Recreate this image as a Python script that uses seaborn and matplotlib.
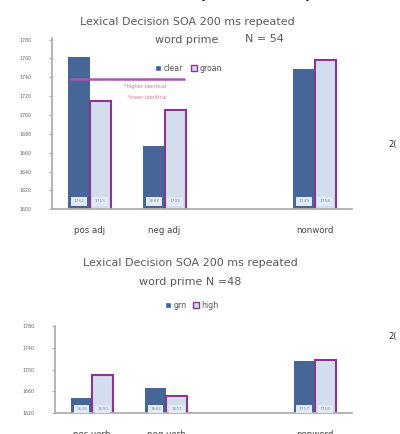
import pandas as pd
import matplotlib.pyplot as plt
import seaborn as sns
import numpy as np

# data
top_cats = ['pos adj', 'neg adj', ' ', 'nonword']
top_clear = [1762, 1667, np.nan, 1749]
top_groan = [1715, 1705, np.nan, 1758]
top_ticks = [1600, 1620, 1640, 1660, 1680, 1700, 1720, 1740, 1760, 1780]
top_mark = 1738

bot_cats = ['pos verb', 'neg verb', ' ', 'nonword']
bot_grn = [1648, 1666, np.nan, 1717]
bot_high = [1690, 1651, np.nan, 1718]
bot_ticks = [1620, 1660, 1700, 1740, 1780]

dark = '#3764a5'
light = '#d0dcf1'
edge = '#8a3590'
grey = '#666666'

sns.set_style('white')
plt.rcParams['font.family'] = ['DejaVu Sans']

fig = plt.figure(figsize=(4, 4.34), dpi=100)


def draw(ax, cats, a, b, names, ticks, ylim):
    df = pd.DataFrame({'cat': cats * 2, 'val': a + b,
                       'grp': [names[0]] * len(cats) + [names[1]] * len(cats)})
    sns.barplot(data=df, x='cat', y='val', hue='grp', order=cats,
                palette=[dark, light], width=0.57, ax=ax, legend=False)
    for k, cont in enumerate(ax.containers):
        for p in cont:
            if k == 1:
                p.set_edgecolor(edge)
                p.set_linewidth(1.5)
            else:
                p.set_linewidth(0)
            h = p.get_height()
            if np.isnan(h) or h == 0:
                continue
            # value boxes at the base of each bar
            ax.text(p.get_x() + p.get_width() / 2, ylim[0] + (ylim[1] - ylim[0]) * 0.045,
                    f'{h:.0f}', ha='center', va='center', fontsize=3.2, color='#8a9ab0',
                    bbox=dict(boxstyle='square,pad=0.5', fc='#e2eaf5', ec='none'))
    n = len(cats)
    ax.set_ylim(*ylim)
    ax.set_yticks(ticks)
    ax.set_yticklabels([str(t) for t in ticks], fontsize=3.4, color=grey)
    ax.set_xlabel('')
    ax.set_ylabel('')
    ax.set_xlim(-0.5, n - 0.5)
    ax.set_xticks(range(n))
    ax.set_xticklabels(cats, fontsize=6.2, color='#444444')
    ax.set_xticks(np.arange(0.5, n - 1, 1), minor=True)
    ax.tick_params(axis='x', which='major', length=0, pad=12)
    ax.tick_params(axis='x', which='minor', length=3, color='#aaaaaa')
    ax.tick_params(axis='y', length=2, color='#aaaaaa', pad=13, left=True)
    for s in ['top', 'right']:
        ax.spines[s].set_visible(False)
    for s in ['left', 'bottom']:
        ax.spines[s].set_color('#b0b0b0')
        ax.spines[s].set_linewidth(1.3)


txt = dict(fontsize=8, color='#5a5a5a', ha='center', va='center')

# top chart
ax1 = fig.add_axes([0.13, 0.518, 0.75, 0.395])
draw(ax1, top_cats, top_clear, top_groan, ['clear', 'groan'], top_ticks, (1600, 1782))
fig.text(187 / 400, 1 - 22 / 434, 'Lexical Decision SOA 200 ms repeated', **txt)
fig.text(187 / 400, 1 - 40 / 434, 'word prime', **txt)
fig.text(264 / 400, 1 - 39 / 434, 'N = 54', **txt)
ax1.hlines(top_mark, -0.26, 1.27, color='#a85aae', lw=1.8)
ax1.text(0.24, 0.705, '*higher identical', transform=ax1.transAxes, fontsize=3.6, color='#cc7799')
ax1.text(0.25, 0.645, '*lower identical', transform=ax1.transAxes, fontsize=3.6, color='#cc7799')
h1 = [plt.Rectangle((0, 0), 1, 1, fc=dark), plt.Rectangle((0, 0), 1, 1, fc=light, ec=edge)]
ax1.legend(h1, ['clear', 'groan'], ncol=2, frameon=False, fontsize=5.6,
           loc='center', bbox_to_anchor=(0.455, 0.82), handlelength=0.8,
           handleheight=0.8, handletextpad=0.3, columnspacing=1.0,
           labelcolor='#555555')

# bottom chart
ax2 = fig.add_axes([0.1375, 0.048, 0.742, 0.2])
draw(ax2, bot_cats, bot_grn, bot_high, ['grn', 'high'], bot_ticks, (1620, 1780))
fig.text(190 / 400, 1 - 263 / 434, 'Lexical Decision SOA 200 ms repeated', **txt)
fig.text(190 / 400, 1 - 282 / 434, 'word prime N =48', **txt)
h2 = [plt.Rectangle((0, 0), 1, 1, fc=dark), plt.Rectangle((0, 0), 1, 1, fc=light, ec=edge)]
ax2.legend(h2, ['grn', 'high'], ncol=2, frameon=False, fontsize=5.6,
           loc='center', bbox_to_anchor=(0.46, 1.24), handlelength=0.8,
           handleheight=0.8, handletextpad=0.3, columnspacing=0.8,
           labelcolor='#555555')

# cut-off bits of the slide around the charts
fig.text(0.5, 1 + 2 / 434, 'Lexical Decision: repeated word prime', ha='center', va='baseline',
         fontsize=10, fontweight='bold', color='#222222')
fig.text(0.97, 1 - 145 / 434, '2(', fontsize=6, color='#333333', va='center')
fig.text(0.97, 1 - 337 / 434, '2(', fontsize=6, color='#333333', va='center')

plt.savefig('out.png', dpi=100)
